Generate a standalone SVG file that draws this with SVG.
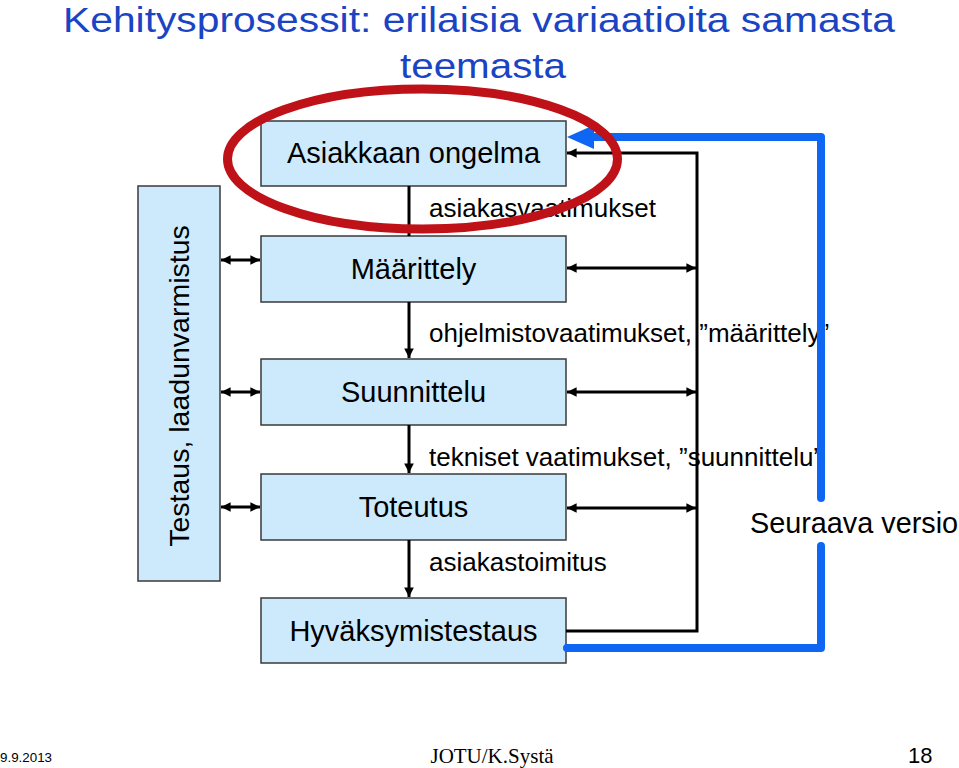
<svg xmlns="http://www.w3.org/2000/svg" width="959" height="768" viewBox="0 0 959 768">
<style>
text{font-family:"Liberation Sans",Arial,sans-serif;fill:#000}
.title{font-size:35px;fill:#1a44c4}
.box{fill:#cdeafc;stroke:#3a3a3a;stroke-width:1.5}
.bt{font-size:29px;text-anchor:middle}
.lbl{font-size:26px}
.ln{fill:none;stroke:#000;stroke-width:3}
.blue{fill:none;stroke:#0f66f2;stroke-width:8;stroke-linejoin:round;stroke-linecap:round}
</style>
<defs>
<marker id="ah" viewBox="0 0 10 10" refX="10" refY="5" markerWidth="3.2" markerHeight="3.2" orient="auto-start-reverse" markerUnits="strokeWidth">
<path d="M0,0 L10,5 L0,10 Z" fill="#000"/>
</marker>
</defs>
<rect width="959" height="768" fill="#fff"/>
<g id="title">
<text class="title" x="63" y="32" textLength="832" lengthAdjust="spacingAndGlyphs">Kehitysprosessit: erilaisia variaatioita samasta</text>
<text class="title" x="400" y="78" textLength="166" lengthAdjust="spacingAndGlyphs">teemasta</text>
</g>
<g id="node-testaus">
<rect class="box" x="138" y="186" width="82" height="395"/>
<text class="bt" style="font-size:28.5px" transform="translate(189,386) rotate(-90)">Testaus, laadunvarmistus</text>
</g>
<g id="node-asiakkaan">
<rect class="box" x="261" y="121" width="305" height="65"/>
<text class="bt" x="413.5" y="163">Asiakkaan ongelma</text>
</g>
<g id="node-maarittely">
<rect class="box" x="261" y="236" width="305" height="66"/>
<text class="bt" x="413.5" y="279">Määrittely</text>
</g>
<g id="node-suunnittelu">
<rect class="box" x="261" y="359" width="305" height="66"/>
<text class="bt" x="413.5" y="402">Suunnittelu</text>
</g>
<g id="node-toteutus">
<rect class="box" x="261" y="474" width="305" height="66"/>
<text class="bt" x="413.5" y="517">Toteutus</text>
</g>
<g id="node-hyvaksymistestaus">
<rect class="box" x="261" y="598" width="305" height="65"/>
<text class="bt" x="413.5" y="641">Hyväksymistestaus</text>
</g>
<g id="labels">
<text class="lbl" x="429" y="217">asiakasvaatimukset</text>
<text class="lbl" x="429" y="342">ohjelmistovaatimukset, ”määrittely”</text>
<text class="lbl" x="429" y="466">tekniset vaatimukset, ”suunnittelu”</text>
<text class="lbl" x="429" y="571">asiakastoimitus</text>
<text x="750" y="533" style="font-size:28.8px">Seuraava versio</text>
</g>
<g id="connectors">
<line class="ln" x1="409" y1="186" x2="409" y2="236"/>
<line class="ln" x1="409" y1="302" x2="409" y2="358" marker-end="url(#ah)"/>
<line class="ln" x1="409" y1="425" x2="409" y2="473" marker-end="url(#ah)"/>
<line class="ln" x1="409" y1="540" x2="409" y2="597" marker-end="url(#ah)"/>
<line class="ln" stroke-width="2.5" x1="221" y1="260" x2="260" y2="260" marker-start="url(#ah)" marker-end="url(#ah)"/>
<line class="ln" stroke-width="2.5" x1="221" y1="392" x2="260" y2="392" marker-start="url(#ah)" marker-end="url(#ah)"/>
<line class="ln" stroke-width="2.5" x1="221" y1="507" x2="260" y2="507" marker-start="url(#ah)" marker-end="url(#ah)"/>
<line class="ln" stroke-width="2.5" x1="567" y1="268" x2="696" y2="268" marker-start="url(#ah)" marker-end="url(#ah)"/>
<line class="ln" stroke-width="2.5" x1="567" y1="392" x2="696" y2="392" marker-start="url(#ah)" marker-end="url(#ah)"/>
<line class="ln" stroke-width="2.5" x1="567" y1="508" x2="696" y2="508" marker-start="url(#ah)" marker-end="url(#ah)"/>
<path class="ln" stroke-width="3.5" d="M566,631 H697 V153 H567" stroke-linejoin="miter" marker-end="url(#ah)"/>
<path class="blue" d="M567,648 H821 V546"/>
<path class="blue" d="M821,498 V137 H590"/>
<polygon points="567,137 594,125 594,149" fill="#0f66f2"/>
</g>
<ellipse cx="422.5" cy="159" rx="195" ry="70" fill="none" stroke="#bf1118" stroke-width="9"/>
<g id="footer">
<text x="0" y="762" style="font-size:12px" textLength="52" lengthAdjust="spacingAndGlyphs">9.9.2013</text>
<text x="492" y="763" style="font-family:'Liberation Serif','Times New Roman',serif;font-size:21px;text-anchor:middle">JOTU/K.Systä</text>
<text x="908" y="763" style="font-size:22px">18</text>
</g>
</svg>
